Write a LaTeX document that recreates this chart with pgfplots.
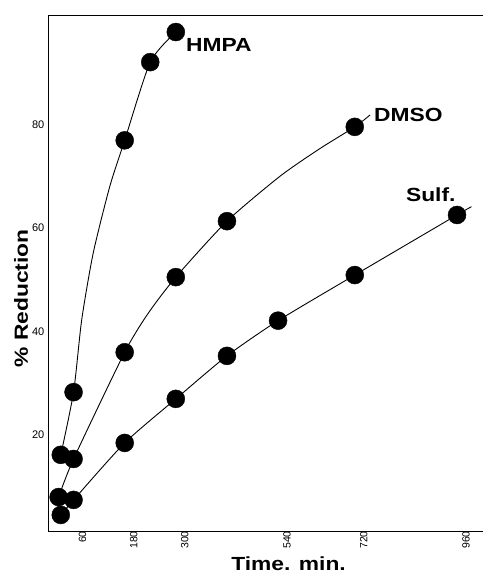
\documentclass[border=0pt]{standalone}
\usepackage{pgfplots}
\pgfplotsset{compat=1.18}
\usepackage{fontspec}
\setmainfont{Liberation Sans}
\newfontfamily\bigfont{Liberation Sans}[FakeStretch=1.2]
\begin{document}
\begin{tikzpicture}
\useasboundingbox (0,0) rectangle (483bp,574bp);
\begin{axis}[
  at={(48bp,43bp)}, anchor=south west,
  scale only axis, width=435bp, height=515bp,
  xmin=0, xmax=1021, ymin=1.5, ymax=100.9,
  axis line style={draw=none},
  tick style={draw=none},
  xtick={60,180,300,540,720,960},
  ytick={20,40,60,80},
  /pgf/number format/assume math mode=true,
  xticklabel style={font=\fontsize{10.5bp}{12bp}\selectfont, xshift=3bp, rotate=90, anchor=east, inner sep=0pt, yshift=-6bp},
  yticklabel style={font=\fontsize{11bp}{13bp}\selectfont, anchor=east, inner sep=0pt, xshift=-3.5bp},
  clip=false,
]
\draw[line width=1pt] (rel axis cs:1,1) -- (rel axis cs:0,1) -- (rel axis cs:0,0) -- (rel axis cs:1,0);
% HMPA
\addplot[black, line width=0.9pt, smooth, tension=0.4] coordinates {(30,16.2)(60,28.3)(79,42.2)(106,55.1)(145,68)(180,76.9)(240,92.0)(300,97.8)};
\addplot[only marks, mark=*, mark size=9bp, black] coordinates {(30,16.2)(60,28.3)(180,76.9)(240,92.0)(300,97.8)};
% DMSO
\addplot[black, line width=0.9pt, smooth, tension=0.4] coordinates {(25,8.05)(60,15.4)(180,36.0)(235,43.5)(300,50.5)(420,61.3)(545,70.0)(638,75.3)(720,79.5)(756,81.8)};
\addplot[only marks, mark=*, mark size=9bp, black] coordinates {(25,8.05)(60,15.4)(180,36.0)(300,50.5)(420,61.3)(720,79.5)};
% Sulf
\addplot[black, line width=0.9pt, smooth, tension=0.4] coordinates {(30,4.6)(60,7.5)(180,18.5)(300,27.0)(420,35.3)(540,42.1)(720,50.9)(960,62.5)(994,64.1)};
\addplot[only marks, mark=*, mark size=9bp, black] coordinates {(30,4.6)(60,7.5)(180,18.5)(300,27.0)(420,35.3)(540,42.1)(720,50.9)(960,62.5)};
\node[anchor=west, inner sep=0pt, font=\bigfont\bfseries\fontsize{19bp}{22bp}\selectfont] at (axis cs:324,95.3) {HMPA};
\node[anchor=west, inner sep=0pt, font=\bigfont\bfseries\fontsize{19bp}{22bp}\selectfont] at (axis cs:765,81.8) {DMSO};
\node[anchor=west, inner sep=0pt, font=\bigfont\bfseries\fontsize{19bp}{22bp}\selectfont] at (axis cs:840,66.5) {Sulf.};
\node[anchor=base, inner sep=0pt, rotate=90, font=\bigfont\bfseries\fontsize{19bp}{22bp}\selectfont] at (axis cs:-47,46.4) {\% Reduction};
\node[anchor=base, inner sep=0pt, font=\bigfont\bfseries\fontsize{19bp}{22bp}\selectfont] at (axis cs:564.6,-6.2) {Time. min.};
\end{axis}
\end{tikzpicture}
\end{document}
